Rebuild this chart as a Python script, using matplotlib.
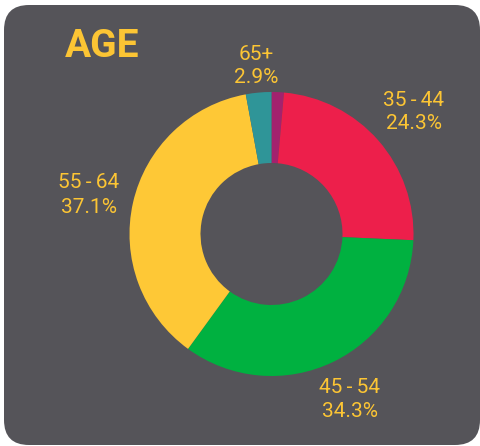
import matplotlib.pyplot as plt
from matplotlib.patches import FancyBboxPatch

# Age distribution (the small magenta slice has no label)
groups = ['<35', '35-44', '45-54', '55-64', '65+']
shares = [1.4, 24.3, 34.3, 37.1, 2.9]
colours = ['#A3226E', '#ED1F4B', '#00B140', '#FEC836', '#2F9598']
label_lines = [('35\u2009-\u200944', '24.3%'),
               ('45\u2009-\u200954', '34.3%'),
               ('55\u2009-\u200964', '37.1%'),
               ('65+', '2.9%')]

W, H = 481, 446
bg = '#555459'
txt = '#FCC534'
fnt = ['Roboto', 'DejaVu Sans']

fig = plt.figure(figsize=(W / 100, H / 100), dpi=100)
fig.patch.set_facecolor('white')
ax = fig.add_axes([0, 0, 1, 1])

# rounded dark panel
r = 25
ax.add_patch(FancyBboxPatch((4 + r, 1 + r), 476 - 2 * r, 440 - 2 * r,
                            boxstyle='round,pad=%d' % r, fc=bg, ec='none', zorder=0))

ax.pie(shares, colors=colours, startangle=90, counterclock=False,
       center=(271.5, H - 234), radius=142,
       wedgeprops=dict(width=71, linewidth=0))

# labels: (x centre, baseline of first line, baseline of second line) in pixels
label_pos = [(414, 106, 129), (350, 393, 417), (89, 188, 213), (256, 60, 83)]
for (l1, l2), (x, b1, b2) in zip(label_lines, label_pos):
    ax.text(x, H - b1, l1, ha='center', va='baseline', color=txt,
            fontsize=15, family=fnt)
    ax.text(x, H - b2, l2, ha='center', va='baseline', color=txt,
            fontsize=15, family=fnt)

ax.text(65, H - 57, 'AGE', ha='left', va='baseline', color=txt,
        fontsize=28, fontweight='bold', family=fnt)

ax.set_xlim(0, W)
ax.set_ylim(0, H)
ax.set_aspect('equal')
ax.axis('off')

fig.savefig('out.png', dpi=100, facecolor='white')
